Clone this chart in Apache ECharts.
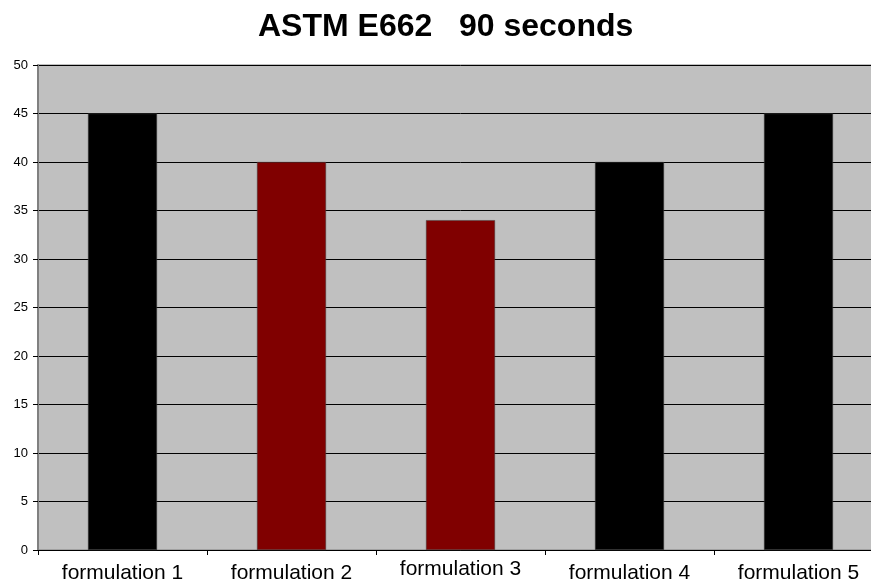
<!DOCTYPE html>
<html>
<head>
<meta charset="utf-8">
<script src="https://cdn.jsdelivr.net/npm/echarts@6/dist/echarts.min.js"></script>
<style>
  html, body { margin: 0; padding: 0; background: #ffffff; overflow: hidden; width: 871px; height: 584px; }
  /* the plot runs past the right edge of the page, so the canvas is wider than the view */
  #chart { width: 883px; height: 584px; }
</style>
</head>
<body>
<div id="chart"></div>
<script>
// Smoke density readings at 90 s for each formulation
const categories = ['formulation 1', 'formulation 2', 'formulation 3', 'formulation 4', 'formulation 5'];
const values = [45, 40, 34, 40, 45];
const barColors = ['#000000', '#800000', '#800000', '#000000', '#000000'];
const yTicks = { min: 0, max: 50, step: 5 };
const titleText = 'ASTM E662   90 seconds';

const FONT = 'Liberation Sans, Arial, sans-serif';
const chart = echarts.init(document.getElementById('chart'), null, { renderer: 'canvas' });

chart.setOption({
  animation: false,
  backgroundColor: '#ffffff',
  title: {
    text: titleText,
    left: 253,
    top: 6,
    textStyle: { fontFamily: FONT, fontSize: 32, fontWeight: 'bold', color: '#000000' }
  },
  grid: {
    left: 38, top: 65, right: 0, bottom: 34,
    show: true,
    backgroundColor: '#C0C0C0',
    borderColor: '#808080',
    borderWidth: 1
  },
  xAxis: {
    type: 'category',
    data: categories,
    axisLine: { lineStyle: { color: '#000000', width: 1 } },
    axisTick: { show: true, length: 5, lineStyle: { color: '#000000' } },
    axisLabel: {
      interval: 0,
      margin: 9,
      fontFamily: FONT,
      fontSize: 21,
      color: '#000000',
      // the middle label sits a little higher than its neighbours
      formatter: (v, i) => (i === 2 ? '{hi|' + v + '}' : '{lo|' + v + '}'),
      rich: {
        hi: { fontFamily: FONT, fontSize: 21, color: '#000000', padding: [0, 0, 0, 0] },
        lo: { fontFamily: FONT, fontSize: 21, color: '#000000', padding: [4, 0, 0, 0] }
      }
    },
    splitLine: { show: false }
  },
  yAxis: {
    type: 'value',
    min: yTicks.min,
    max: yTicks.max,
    interval: yTicks.step,
    axisLine: { show: true, lineStyle: { color: '#808080', width: 2 } },
    axisTick: { show: true, length: 5, lineStyle: { color: '#000000' } },
    axisLabel: {
      margin: 10,
      fontFamily: FONT,
      fontSize: 13,
      color: '#000000'
    },
    splitLine: { show: true, lineStyle: { color: '#000000', width: 1 } }
  },
  series: [{
    type: 'bar',
    barWidth: 69,
    data: values.map((v, i) => ({ value: v, itemStyle: { color: barColors[i] } })),
    itemStyle: { borderColor: '#404040', borderWidth: 0.5 }
  }]
});
</script>
</body>
</html>
